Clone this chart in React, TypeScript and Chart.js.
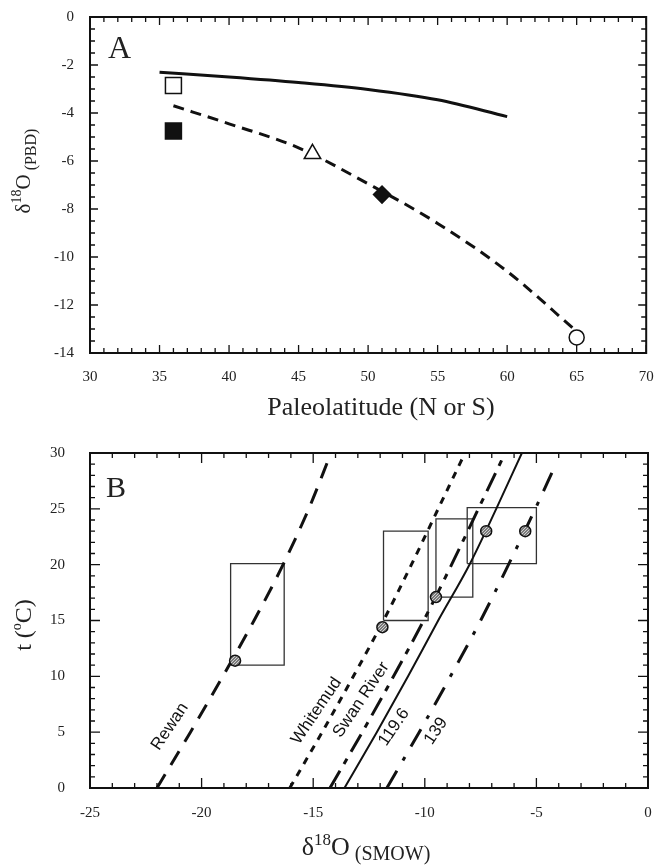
import React, { useEffect, useRef } from 'react';
import { Chart, registerables } from 'chart.js';

Chart.register(...registerables);

// ---------------- Panel A data ----------------
const latSolid = [35, 40, 45, 50, 55, 60];
const d18Solid = [-2.3, -2.5, -2.73, -3.02, -3.45, -4.15];
const latDashed = [36, 40, 45, 50, 55, 60, 65];
const d18Dashed = [-3.7, -4.45, -5.45, -6.95, -8.6, -10.6, -13.1];
const markerLat = [36, 36, 46, 51, 65];
const markerD18 = [-2.85, -4.75, -5.7, -7.4, -13.35];
// marker styles (kept separate from values)
const markerShape = ['rect', 'rect', 'triangle', 'rectRot', 'circle'];
const markerSize = [11.3, 11.3, 9.5, 8.5, 7.5];
const markerFill = ['#ffffff', '#111111', '#ffffff', '#111111', '#ffffff'];

// ---------------- Panel B data ----------------
const tGrid = [0, 5, 10, 15, 20, 25, 30];
const rewanX = [-22, -20.5, -19.05, -17.65, -16.35, -15.2, -14.2];
const whitemudX = [-16.05, -14.6, -13.2, -11.85, -10.6, -9.4, -8.2];
const swanX = [-14.25, -12.8, -11.4, -10.05, -8.8, -7.6, -6.4];
const line1196X = [-13.6, -12.15, -10.75, -9.4, -8.0, -6.8, -5.65];
const t139 = [0, 5, 10, 15, 20, 25, 28.7];
const line139X = [-11.7, -10.25, -8.85, -7.5, -6.25, -5.05, -4.2];

const boxXMin = [-18.7, -11.85, -9.5, -8.1];
const boxXMax = [-16.3, -9.85, -7.85, -5.0];
const boxTMin = [11, 15, 17.1, 20.1];
const boxTMax = [20.1, 23, 24.1, 25.1];

const sampleX = [-18.5, -11.9, -9.5, -7.25, -5.5];
const sampleT = [11.4, 14.4, 17.1, 23, 23];

const lineLabels = ['Rewan', 'Whitemud', 'Swan River', '119.6', '139'];
const lineLabelX = [-21.42, -14.85, -12.85, -11.38, -9.5];
const lineLabelT = [5.5, 6.9, 7.9, 5.45, 5.1];

const SERIF = "'Liberation Serif', 'Times New Roman', serif";
const SANS = "'Liberation Sans', Arial, sans-serif";
const INK = '#111111';
const TEXT = '#222222';

type Part = { text: string; size: number; dy?: number };

function drawRich(ctx: CanvasRenderingContext2D, parts: Part[], cx: number, cy: number, angle: number) {
  ctx.save();
  ctx.translate(cx, cy);
  ctx.rotate(angle);
  ctx.fillStyle = TEXT;
  ctx.textBaseline = 'alphabetic';
  ctx.textAlign = 'left';
  const widths = parts.map((p) => {
    ctx.font = `${p.size}px ${SERIF}`;
    return ctx.measureText(p.text).width;
  });
  const total = widths.reduce((a, b) => a + b, 0);
  let x = -total / 2;
  parts.forEach((p, i) => {
    ctx.font = `${p.size}px ${SERIF}`;
    ctx.fillText(p.text, x, p.dy || 0);
    x += widths[i];
  });
  ctx.restore();
}

type FrameSpec = {
  xMin: number; xMax: number; xStep: number; xMajorEvery: number;
  yMin: number; yMax: number; yStep: number; yMajorEvery: number;
  majorLen: number; minorLen: number; frameWidth: number;
};

function framePlugin(spec: FrameSpec, extra: (chart: any) => void) {
  return {
    id: 'frameTicks',
    afterDraw(chart: any) {
      const { ctx, chartArea: a, scales } = chart;
      const xs = scales.x;
      const ys = scales.y;
      ctx.save();
      ctx.strokeStyle = INK;
      ctx.lineWidth = 1.3;
      const nx = Math.round((spec.xMax - spec.xMin) / spec.xStep);
      for (let i = 0; i <= nx; i++) {
        const v = spec.xMin + i * spec.xStep;
        const px = xs.getPixelForValue(v);
        const len = i % spec.xMajorEvery === 0 ? spec.majorLen : spec.minorLen;
        ctx.beginPath();
        ctx.moveTo(px, a.bottom);
        ctx.lineTo(px, a.bottom - len);
        ctx.moveTo(px, a.top);
        ctx.lineTo(px, a.top + len);
        ctx.stroke();
      }
      const ny = Math.round((spec.yMax - spec.yMin) / spec.yStep);
      for (let i = 0; i <= ny; i++) {
        const v = spec.yMin + i * spec.yStep;
        const py = ys.getPixelForValue(v);
        const len = i % spec.yMajorEvery === 0 ? spec.majorLen : spec.minorLen;
        ctx.beginPath();
        ctx.moveTo(a.left, py);
        ctx.lineTo(a.left + len, py);
        ctx.moveTo(a.right, py);
        ctx.lineTo(a.right - len, py);
        ctx.stroke();
      }
      ctx.lineWidth = spec.frameWidth;
      ctx.strokeRect(a.left, a.top, a.right - a.left, a.bottom - a.top);
      ctx.restore();
      extra(chart);
    },
  };
}

const tickFont = { family: SERIF, size: 15 };

const fitX = (h: number) => (s: any) => {
  s.height = h;
  s.paddingLeft = 0;
  s.paddingRight = 0;
  s.paddingTop = 0;
  s.paddingBottom = 0;
};
const fitY = (w: number) => (s: any) => {
  s.width = w;
  s.paddingLeft = 0;
  s.paddingRight = 0;
  s.paddingTop = 0;
  s.paddingBottom = 0;
};

export default function App() {
  const refA = useRef<HTMLCanvasElement | null>(null);
  const refB = useRef<HTMLCanvasElement | null>(null);

  useEffect(() => {
    const cA = refA.current!;
    const cB = refB.current!;

    // ---------- Chart A ----------
    const chartA = new Chart(cA, {
      type: 'scatter',
      data: {
        datasets: [
          {
            data: markerLat.map((x, i) => ({ x, y: markerD18[i] })),
            pointStyle: markerShape as any,
            pointRadius: markerSize,
            pointBackgroundColor: markerFill,
            pointBorderColor: INK,
            pointBorderWidth: 1.5,
            showLine: false,
          } as any,
          {
            data: latSolid.map((x, i) => ({ x, y: d18Solid[i] })),
            showLine: true,
            borderColor: INK,
            borderWidth: 3,
            pointRadius: 0,
            cubicInterpolationMode: 'monotone',
          } as any,
          {
            data: latDashed.map((x, i) => ({ x, y: d18Dashed[i] })),
            showLine: true,
            borderColor: INK,
            borderWidth: 3,
            borderDash: [11, 7],
            pointRadius: 0,
            cubicInterpolationMode: 'monotone',
          } as any,
        ],
      },
      options: {
        animation: false,
        responsive: false,
        maintainAspectRatio: false,
        layout: { padding: { left: 0, top: 17, right: 11, bottom: 0 } },
        plugins: { legend: { display: false }, tooltip: { enabled: false } },
        scales: {
          x: {
            type: 'linear',
            min: 30,
            max: 70,
            ticks: { stepSize: 5, font: tickFont, color: TEXT, padding: 15, autoSkip: false, maxRotation: 0 },
            grid: { display: false, drawTicks: false },
            border: { display: false },
            afterFit: fitX(72),
          },
          y: {
            type: 'linear',
            min: -14,
            max: 0,
            ticks: { stepSize: 2, font: tickFont, color: TEXT, padding: 16, autoSkip: false },
            grid: { display: false, drawTicks: false },
            border: { display: false },
            afterFit: fitY(90),
          },
        },
      } as any,
      plugins: [
        framePlugin(
          { xMin: 30, xMax: 70, xStep: 1, xMajorEvery: 5, yMin: -14, yMax: 0, yStep: 0.5, yMajorEvery: 4, majorLen: 8, minorLen: 5, frameWidth: 2 },
          (chart: any) => {
            const ctx = chart.ctx as CanvasRenderingContext2D;
            ctx.save();
            ctx.fillStyle = TEXT;
            ctx.font = `32px ${SERIF}`;
            ctx.textAlign = 'left';
            ctx.textBaseline = 'alphabetic';
            ctx.fillText('A', chart.chartArea.left + 18, chart.chartArea.top + 41);
            ctx.restore();
            drawRich(ctx, [{ text: 'Paleolatitude (N or S)', size: 26 }], 381, 415, 0);
            drawRich(
              ctx,
              [
                { text: 'δ', size: 21 },
                { text: '18', size: 14, dy: -9 },
                { text: 'O', size: 21 },
                { text: ' (PBD)', size: 16, dy: 6 },
              ],
              30,
              171,
              -Math.PI / 2
            );
          }
        ),
      ],
    });

    // ---------- Chart B ----------
    const pc = document.createElement('canvas');
    pc.width = 3;
    pc.height = 3;
    const pctx = pc.getContext('2d')!;
    pctx.fillStyle = '#7a7a7a';
    pctx.fillRect(0, 0, 3, 3);
    pctx.fillStyle = '#d0d0d0';
    pctx.fillRect(0, 0, 1, 1);
    pctx.fillRect(2, 1, 1, 1);
    pctx.fillRect(1, 2, 1, 1);
    const pattern = cB.getContext('2d')!.createPattern(pc, 'repeat');

    const lineDs = (xs: number[], ts: number[], dash: number[], width: number) => ({
      data: xs.map((x, i) => ({ x, y: ts[i] })),
      showLine: true,
      borderColor: INK,
      borderWidth: width,
      borderDash: dash,
      pointRadius: 0,
      cubicInterpolationMode: 'monotone',
    });

    const boxDatasets = boxXMin.map((x0, i) => ({
      data: [
        { x: x0, y: boxTMin[i] },
        { x: boxXMax[i], y: boxTMin[i] },
        { x: boxXMax[i], y: boxTMax[i] },
        { x: x0, y: boxTMax[i] },
        { x: x0, y: boxTMin[i] },
      ],
      showLine: true,
      borderColor: '#333333',
      borderWidth: 1.3,
      pointRadius: 0,
      tension: 0,
    }));

    const chartB = new Chart(cB, {
      type: 'scatter',
      data: {
        datasets: [
          {
            data: sampleX.map((x, i) => ({ x, y: sampleT[i] })),
            pointStyle: 'circle',
            pointRadius: 5.5,
            pointBackgroundColor: pattern as any,
            pointBorderColor: INK,
            pointBorderWidth: 1.5,
            showLine: false,
          } as any,
          lineDs(rewanX, tGrid, [16, 11], 3) as any,
          lineDs(whitemudX, tGrid, [7, 7], 3) as any,
          lineDs(swanX, tGrid, [20, 8, 6, 8], 3) as any,
          lineDs(line1196X, tGrid, [], 2) as any,
          lineDs(line139X, t139, [20, 12, 4, 12], 3) as any,
          ...(boxDatasets as any[]),
        ],
      },
      options: {
        animation: false,
        responsive: false,
        maintainAspectRatio: false,
        layout: { padding: { left: 0, top: 28, right: 11, bottom: 0 } },
        plugins: { legend: { display: false }, tooltip: { enabled: false } },
        scales: {
          x: {
            type: 'linear',
            min: -25,
            max: 0,
            ticks: { stepSize: 5, font: tickFont, color: TEXT, padding: 16, autoSkip: false, maxRotation: 0 },
            grid: { display: false, drawTicks: false },
            border: { display: false },
            afterFit: fitX(77),
          },
          y: {
            type: 'linear',
            min: 0,
            max: 30,
            ticks: { stepSize: 5, font: tickFont, color: TEXT, padding: 25, autoSkip: false },
            grid: { display: false, drawTicks: false },
            border: { display: false },
            afterFit: fitY(90),
          },
        },
      } as any,
      plugins: [
        framePlugin(
          { xMin: -25, xMax: 0, xStep: 1, xMajorEvery: 5, yMin: 0, yMax: 30, yStep: 1, yMajorEvery: 5, majorLen: 10, minorLen: 5, frameWidth: 2 },
          (chart: any) => {
            const ctx = chart.ctx as CanvasRenderingContext2D;
            const xs = chart.scales.x;
            const ys = chart.scales.y;
            ctx.save();
            ctx.fillStyle = TEXT;
            ctx.font = `30px ${SERIF}`;
            ctx.textAlign = 'left';
            ctx.textBaseline = 'alphabetic';
            ctx.fillText('B', chart.chartArea.left + 16, chart.chartArea.top + 44);
            ctx.font = `17px ${SANS}`;
            ctx.textAlign = 'center';
            ctx.textBaseline = 'middle';
            ctx.fillStyle = INK;
            lineLabels.forEach((txt, i) => {
              const px = xs.getPixelForValue(lineLabelX[i]);
              const py = ys.getPixelForValue(lineLabelT[i]);
              ctx.save();
              ctx.translate(px, py);
              ctx.rotate((-56 * Math.PI) / 180);
              ctx.fillText(txt, 0, 0);
              ctx.restore();
            });
            ctx.restore();
            drawRich(
              ctx,
              [
                { text: 'δ', size: 26 },
                { text: '18', size: 17, dy: -10 },
                { text: 'O', size: 26 },
                { text: ' (SMOW)', size: 20, dy: 5 },
              ],
              366,
              430,
              0
            );
            drawRich(
              ctx,
              [
                { text: 't (', size: 24 },
                { text: 'o', size: 14, dy: -10 },
                { text: 'C)', size: 24 },
              ],
              31,
              200,
              -Math.PI / 2
            );
          }
        ),
      ],
    });

    return () => {
      chartA.destroy();
      chartB.destroy();
    };
  }, []);

  return (
    <div style={{ position: 'absolute', left: 0, top: 0, width: 659, height: 865, background: '#ffffff' }}>
      <canvas ref={refA} width={659} height={425} style={{ position: 'absolute', left: 0, top: 0 }} />
      <canvas ref={refB} width={659} height={440} style={{ position: 'absolute', left: 0, top: 425 }} />
    </div>
  );
}
